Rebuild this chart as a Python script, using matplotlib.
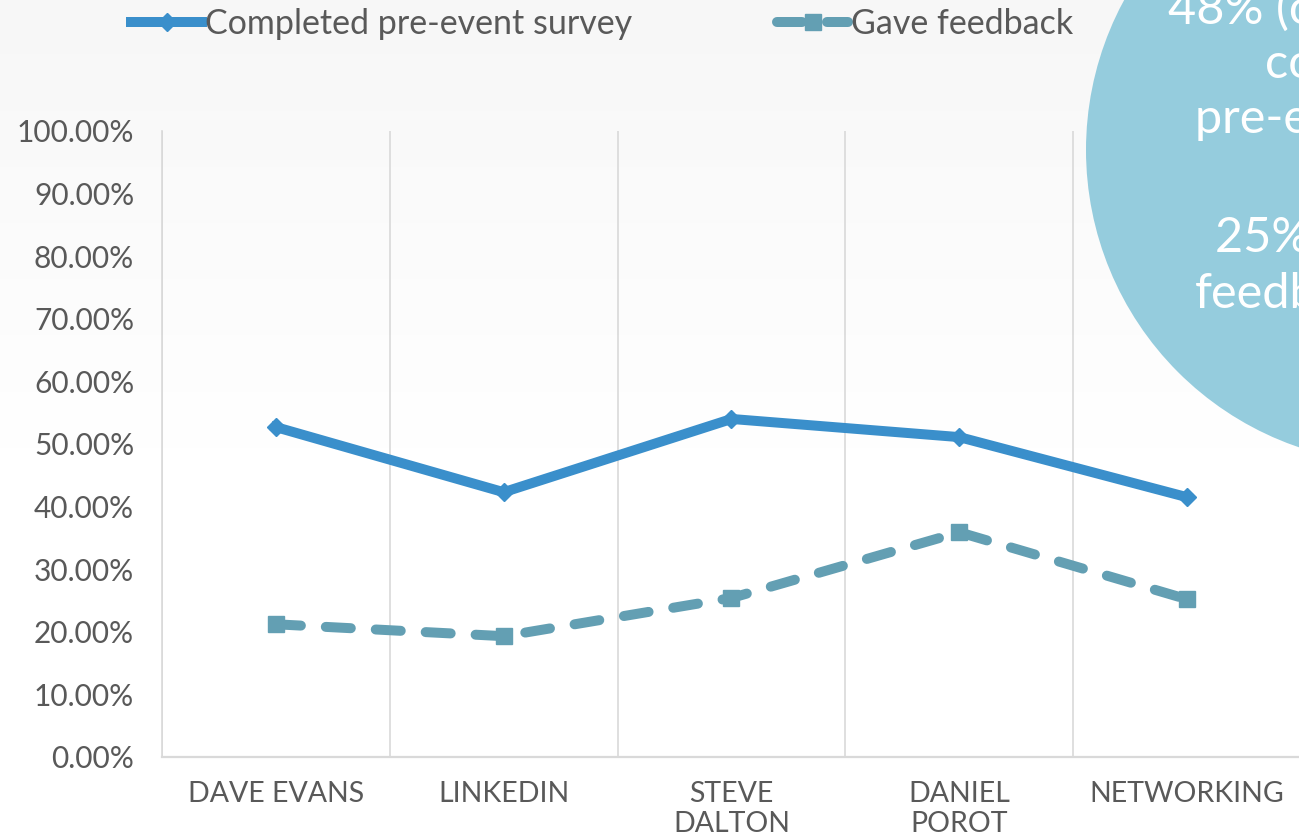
import numpy as np
import matplotlib.pyplot as plt
from matplotlib.patches import Circle
from matplotlib.ticker import PercentFormatter, MultipleLocator

# Data
categories = ["DAVE EVANS", "LINKEDIN", "STEVE\nDALTON", "DANIEL\nPOROT", "NETWORKING"]
completed = [0.527, 0.423, 0.540, 0.511, 0.415]
feedback = [0.212, 0.193, 0.254, 0.359, 0.252]
series_names = ["Completed pre-event survey", "Gave feedback"]
callout_lines = ["48% (of attendees)", "completed", "pre-event survey", "25% gave", "feedback"]
callout_x = [1168, 1265, 1195, 1215, 1195]
callout_baseline = [24, 78, 133, 252, 308]

plt.rcParams['font.family'] = ['Lato', 'DejaVu Sans']
text_col = '#595959'
grid_col = '#d9d9d9'

W, H = 1299, 840
fig = plt.figure(figsize=(W / 100, H / 100), dpi=100)

# soft grey-to-white background
bg = fig.add_axes([0, 0, 1, 1], zorder=0)
rows = np.linspace(0, 1, H)
shade = np.clip(0.965 + 0.035 * rows / 0.6, 0, 1).reshape(-1, 1)
bg.imshow(shade, cmap='gray', vmin=0, vmax=1, aspect='auto', extent=(0, 1, 0, 1), origin='upper')
bg.axis('off')

# main chart
ax = fig.add_axes([162 / W, 83 / H, 1139 / W, 626 / H], zorder=1)
ax.patch.set_alpha(0)
x = np.arange(len(categories))
ax.plot(x, completed, color='#3A8FCB', lw=7.2, marker='D', ms=9,
        solid_joinstyle='miter', label=series_names[0], zorder=3)
ax.plot(x, feedback, color='#639FB3', lw=7.2, ls=(0, (2.5, 2.5)),
        dash_capstyle='round', marker='s', ms=12, label=series_names[1], zorder=3)

ax.set_xlim(-0.5, len(categories) - 0.5)
ax.set_ylim(0, 1)
ax.yaxis.set_major_locator(MultipleLocator(0.1))
ax.yaxis.set_major_formatter(PercentFormatter(xmax=1, decimals=2))
ax.set_xticks(x)
ax.set_xticklabels(categories, linespacing=1.2)
ax.set_xticks(np.arange(-0.5, len(categories), 1), minor=True)
ax.grid(which='minor', axis='x', color=grid_col, lw=1.2)
ax.tick_params(which='both', length=0)
ax.tick_params(axis='y', labelsize=21.5, labelcolor=text_col, pad=20)
ax.tick_params(axis='x', labelsize=20.5, labelcolor=text_col, pad=17)
for s in ['top', 'right']:
    ax.spines[s].set_visible(False)
ax.spines['left'].set_color(grid_col)
ax.spines['left'].set_linewidth(1.2)
ax.spines['bottom'].set_color(grid_col)
ax.spines['bottom'].set_linewidth(1.6)

leg = ax.legend(loc='upper left', bbox_to_anchor=(131 / W, 1 - 8 / H), bbox_transform=fig.transFigure,
                ncol=2, frameon=False, handlelength=2.1, handletextpad=0.08, columnspacing=4.25,
                fontsize=24.5, borderaxespad=0, borderpad=0)
for t in leg.get_texts():
    t.set_color(text_col)

# callout bubble on the right
ov = fig.add_axes([0, 0, 1, 1], zorder=3)
ov.set_xlim(0, W)
ov.set_ylim(H, 0)
ov.axis('off')
ov.add_patch(Circle((1400, 150), 314, color='#95CCDD', lw=0))
for line, cx, by in zip(callout_lines, callout_x, callout_baseline):
    ov.text(cx, by, line, color='white', fontsize=35, va='baseline', ha='left')

fig.savefig('out.png', dpi=100)
